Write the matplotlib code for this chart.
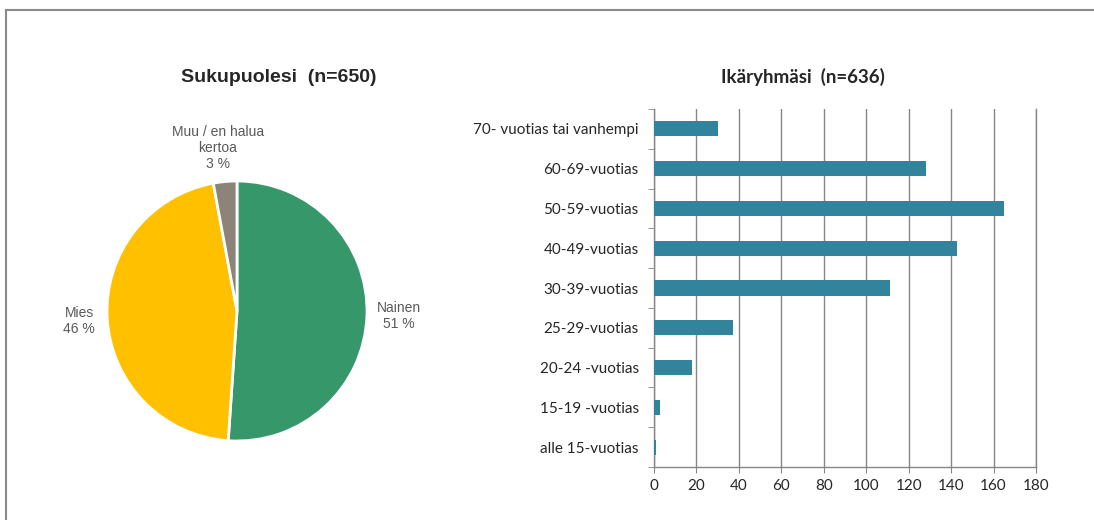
import matplotlib
matplotlib.use("Agg")
import matplotlib.pyplot as plt
from matplotlib.lines import Line2D
import numpy as np

# ---- data ----
pie_labels = ["Nainen", "Mies", "Muu / en halua\nkertoa"]
pie_values = [332, 299, 19]
pie_pcts = ["51 %", "46 %", "3 %"]
pie_colors = ["#36976A", "#FFC000", "#8C8479"]
pie_title = "Sukupuolesi  (n=650)"

age_groups = ["70- vuotias tai vanhempi", "60-69-vuotias", "50-59-vuotias",
              "40-49-vuotias", "30-39-vuotias", "25-29-vuotias",
              "20-24 -vuotias", "15-19 -vuotias", "alle 15-vuotias"]
age_counts = [30, 128, 165, 143, 111, 37, 18, 3, 1]
bar_title = "Ikäryhmäsi  (n=636)"
x_ticks = [0, 20, 40, 60, 80, 100, 120, 140, 160, 180]

W, H = 1094, 520
fig = plt.figure(figsize=(W / 100, H / 100), dpi=100)
fig.patch.set_facecolor("white")

# frame lines (top and left)
fig.add_artist(Line2D([6 / W, 1], [1 - 10 / H, 1 - 10 / H], color="#8a8a8a", lw=1.5, transform=fig.transFigure))
fig.add_artist(Line2D([6 / W, 6 / W], [0, 1 - 10 / H], color="#8a8a8a", lw=1.5, transform=fig.transFigure))

# ---- pie ----
cx, cy, r = 237, 311, 130
axp = fig.add_axes([(cx - r) / W, (H - cy - r) / H, 2 * r / W, 2 * r / H])
wedges, _ = axp.pie(pie_values, colors=pie_colors, startangle=90, counterclock=False,
                    wedgeprops=dict(edgecolor="white", linewidth=2))
axp.set_xlim(-1, 1)
axp.set_ylim(-1, 1)
axp.set_aspect("auto")
axp.axis("off")

lab_font = dict(family="Liberation Sans", fontsize=10, color="#595959")
fig.text(377 / W, 1 - 316 / H, pie_labels[0] + "\n" + pie_pcts[0], ha="left", va="center",
         multialignment="center", linespacing=1.1, **lab_font)
fig.text(95 / W, 1 - 321 / H, pie_labels[1] + "\n" + pie_pcts[1], ha="right", va="center",
         multialignment="center", linespacing=1.1, **lab_font)
fig.text(218 / W, 1 - 148 / H, pie_labels[2] + "\n" + pie_pcts[2], ha="center", va="center",
         multialignment="center", linespacing=1.15, **lab_font)

fig.text(279 / W, 1 - 77 / H, pie_title, ha="center", va="center",
         family="Liberation Sans", fontweight="bold", fontsize=14, color="#262626")

# ---- bar ----
axb = fig.add_axes([654 / W, (H - 467) / H, 382 / W, 358 / H])
y = np.arange(len(age_groups))
axb.barh(y, age_counts, height=0.38, color="#31849B", zorder=3)
axb.set_ylim(len(age_groups) - 0.5, -0.5)
axb.set_xlim(0, 180)
axb.set_xticks(x_ticks)
axb.set_xticklabels([str(t) for t in x_ticks])
axb.set_yticks(y)
axb.set_yticklabels(age_groups)
axb.set_yticks(np.arange(-0.5, len(age_groups), 1), minor=True)
axb.tick_params(axis="y", which="major", length=0, pad=11, labelsize=11, labelcolor="#262626")
axb.tick_params(axis="y", which="minor", length=4, color="#868686", direction="out")
axb.tick_params(axis="x", which="major", length=4, color="#868686", direction="out",
                labelsize=11, labelcolor="#262626", pad=5)
for lab in axb.get_xticklabels() + axb.get_yticklabels():
    lab.set_family("Lato")
axb.grid(axis="x", color="#868686", linewidth=1, zorder=0)
axb.spines["top"].set_visible(False)
for s in ["left", "bottom", "right"]:
    axb.spines[s].set_color("#868686")
    axb.spines[s].set_linewidth(1)

fig.text(803 / W, 1 - 77 / H, bar_title, ha="center", va="center",
         family="Lato", fontweight="bold", fontsize=13.5, color="#262626")

fig.savefig("out.png", dpi=100)
